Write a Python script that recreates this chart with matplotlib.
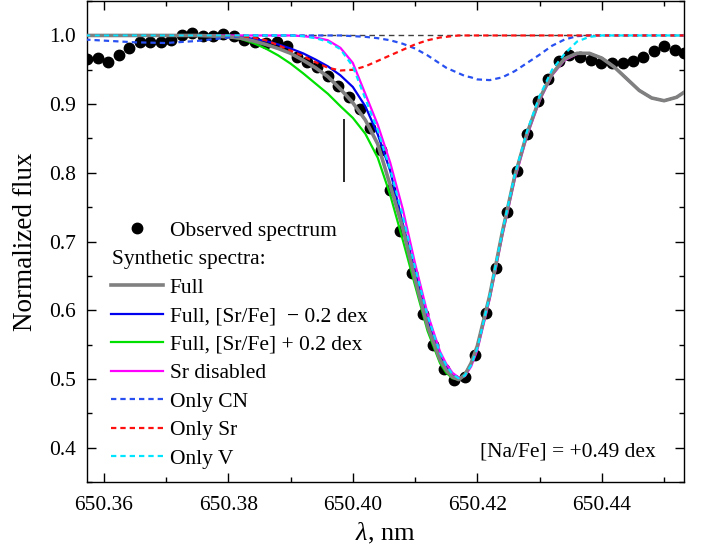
import matplotlib
matplotlib.use("Agg")
import matplotlib.pyplot as plt
from matplotlib.lines import Line2D
from matplotlib.ticker import MultipleLocator, FormatStrFormatter

plt.rcParams["font.family"] = ["Liberation Serif", "DejaVu Serif"]
plt.rcParams["mathtext.fontset"] = "custom"
plt.rcParams["mathtext.rm"] = "Liberation Serif"
plt.rcParams["mathtext.it"] = "Liberation Serif:italic"

# observed spectrum (nm, normalized flux)
obs_wl = [650.35732, 650.35908, 650.36069, 650.36241, 650.36406, 650.36578, 650.36739,
          650.36911, 650.37076, 650.37248, 650.37418, 650.37586, 650.37756, 650.37916,
          650.38088, 650.38249, 650.38426, 650.38598, 650.38774, 650.38935, 650.39096,
          650.39266, 650.39426, 650.39598, 650.39764, 650.39936, 650.40112, 650.40273,
          650.40450, 650.40594, 650.40755, 650.40943, 650.41120, 650.41290, 650.41462,
          650.41622, 650.41799, 650.41960, 650.42136, 650.42297, 650.42469, 650.42630,
          650.42800, 650.42977, 650.43137, 650.43314, 650.43475, 650.43647, 650.43818,
          650.43979, 650.44156, 650.44332, 650.44493, 650.44663, 650.44835, 650.44996,
          650.45168, 650.45317]
obs_flux = [0.966, 0.967, 0.962, 0.972, 0.982, 0.990, 0.990, 0.990, 0.994, 1.000,
            1.0035, 0.9985, 0.9995, 1.002, 0.9985, 0.994, 0.990, 0.989, 0.991, 0.984,
            0.969, 0.961, 0.954, 0.941, 0.927, 0.910, 0.893, 0.866, 0.833, 0.775,
            0.715, 0.654, 0.595, 0.550, 0.515, 0.498, 0.503, 0.535, 0.596, 0.662,
            0.743, 0.802, 0.856, 0.904, 0.937, 0.963, 0.972, 0.9685, 0.9646, 0.9606,
            0.960, 0.960, 0.963, 0.969, 0.977, 0.985, 0.979, 0.974]

# synthetic spectra, all on one wavelength grid
syn_wl = [650.3570, 650.3650, 650.3700, 650.3750, 650.3780, 650.3800, 650.3820, 650.3840,
          650.3860, 650.3880, 650.3900, 650.3920, 650.3940, 650.3960, 650.3980, 650.4000,
          650.4020, 650.4040, 650.4060, 650.4080, 650.4100, 650.4120, 650.4140, 650.4150,
          650.4160, 650.4170, 650.4180, 650.4190, 650.4200, 650.4220, 650.4240, 650.4260,
          650.4280, 650.4300, 650.4320, 650.4340, 650.4360, 650.4380, 650.4400, 650.4420,
          650.4440, 650.4460, 650.4480, 650.4500, 650.4520, 650.4535]

full = [1.000, 1.000, 1.000, 1.000, 0.999, 0.998, 0.996, 0.992, 0.987, 0.981,
        0.974, 0.964, 0.953, 0.940, 0.922, 0.902, 0.877, 0.842, 0.782, 0.720,
        0.645, 0.577, 0.528, 0.513, 0.503, 0.499, 0.506, 0.523, 0.548, 0.622,
        0.713, 0.795, 0.858, 0.908, 0.944, 0.966, 0.974, 0.974, 0.967, 0.954,
        0.937, 0.920, 0.909, 0.905, 0.910, 0.919]
sr_minus = [1.000, 1.000, 1.000, 1.000, 0.999, 0.999, 0.998, 0.995, 0.992, 0.987,
            0.981, 0.974, 0.965, 0.955, 0.942, 0.925, 0.897, 0.856, 0.803, 0.727,
            0.656, 0.585, 0.533, 0.517, 0.505, 0.500, 0.505, 0.521, 0.546, 0.620,
            0.711, 0.793, 0.857, 0.907, 0.943, 0.965, 0.974, 0.974, 0.967, 0.954,
            0.937, 0.920, 0.909, 0.905, 0.910, 0.919]
sr_plus = [1.000, 1.000, 1.000, 1.000, 1.000, 0.998, 0.995, 0.989, 0.981, 0.971,
           0.959, 0.945, 0.930, 0.915, 0.897, 0.880, 0.857, 0.822, 0.768, 0.703,
           0.636, 0.570, 0.523, 0.509, 0.501, 0.499, 0.507, 0.523, 0.548, 0.622,
           0.713, 0.795, 0.858, 0.908, 0.944, 0.966, 0.974, 0.974, 0.967, 0.954,
           0.937, 0.920, 0.909, 0.905, 0.910, 0.919]
sr_off = [1.000, 1.000, 1.000, 1.000, 1.000, 1.000, 1.000, 1.000, 1.000, 1.000,
          1.000, 0.999, 0.997, 0.993, 0.982, 0.960, 0.915, 0.870, 0.815, 0.748,
          0.668, 0.595, 0.540, 0.522, 0.509, 0.502, 0.504, 0.518, 0.542, 0.617,
          0.708, 0.790, 0.854, 0.905, 0.942, 0.964, 0.973, 0.974, 0.967, 0.954,
          0.937, 0.920, 0.909, 0.905, 0.910, 0.919]
only_cn = [0.994, 0.990, 0.989, 0.992, 0.995, 0.997, 0.999, 1.000, 1.000, 1.000,
           1.000, 1.000, 1.000, 1.000, 1.000, 0.999, 0.998, 0.996, 0.993, 0.988,
           0.981, 0.971, 0.959, 0.953, 0.949, 0.945, 0.941, 0.939, 0.936, 0.935,
           0.939, 0.948, 0.960, 0.972, 0.985, 0.994, 0.999, 1.000, 1.000, 1.000,
           1.000, 1.000, 1.000, 1.000, 1.000, 1.000]
only_sr = [1.000, 1.000, 1.000, 1.000, 1.000, 1.000, 0.999, 0.997, 0.993, 0.986,
           0.978, 0.970, 0.961, 0.953, 0.949, 0.950, 0.955, 0.963, 0.971, 0.979,
           0.987, 0.993, 0.997, 0.998, 0.999, 1.000, 1.000, 1.000, 1.000, 1.000,
           1.000, 1.000, 1.000, 1.000, 1.000, 1.000, 1.000, 1.000, 1.000, 1.000,
           1.000, 1.000, 1.000, 1.000, 1.000, 1.000]
only_v = [1.000, 1.000, 1.000, 1.000, 1.000, 1.000, 1.000, 1.000, 1.000, 1.000,
          1.000, 0.999, 0.996, 0.991, 0.980, 0.955, 0.908, 0.862, 0.805, 0.738,
          0.662, 0.592, 0.538, 0.520, 0.507, 0.501, 0.505, 0.520, 0.545, 0.622,
          0.714, 0.797, 0.861, 0.912, 0.950, 0.973, 0.991, 0.998, 1.000, 1.000,
          1.000, 1.000, 1.000, 1.000, 1.000, 1.000]

# position of the Na line marker
na_wl = 650.3985
na_flux = [0.786, 0.878]

DASH = (0, (2.4, 1.8))

fig = plt.figure(figsize=(7.03, 5.54), dpi=100)
ax = fig.add_axes([0.1238, 0.130, 0.8492, 0.868])

ax.axhline(1.0, color="#404040", lw=1.0, ls=(0, (4, 3)), zorder=1)
ax.plot(obs_wl, obs_flux, "o", color="black", ms=7.5, ls="none", zorder=2)
ax.plot(syn_wl, sr_plus, color="#00e000", lw=1.6, zorder=3)
ax.plot(syn_wl, sr_minus, color="#0000ee", lw=1.6, zorder=3)
ax.plot(syn_wl, sr_off, color="#ff00ff", lw=1.6, zorder=3)
ax.plot(syn_wl, full, color="#808080", lw=2.6, zorder=4)
ax.plot(syn_wl, only_cn, color="#2850f0", lw=1.6, ls=DASH, zorder=5)
ax.plot(syn_wl, only_sr, color="#ff1010", lw=1.6, ls=DASH, zorder=5)
ax.plot(syn_wl, only_v, color="#00e5ff", lw=1.6, ls=DASH, zorder=6)
ax.vlines(na_wl, na_flux[0], na_flux[1], color="black", lw=1.2, zorder=6)

ax.set_xlim(650.3573, 650.4532)
ax.set_ylim(0.35, 1.05)
ax.xaxis.set_major_locator(MultipleLocator(0.02))
ax.xaxis.set_minor_locator(MultipleLocator(0.01))
ax.yaxis.set_major_locator(MultipleLocator(0.1))
ax.yaxis.set_minor_locator(MultipleLocator(0.05))
ax.xaxis.set_major_formatter(FormatStrFormatter("%.2f"))
ax.yaxis.set_major_formatter(FormatStrFormatter("%.1f"))
ax.tick_params(which="both", direction="in", top=True, right=True, labelsize=15.5, width=1.0)
ax.tick_params(which="major", length=6.5)
ax.tick_params(axis="x", which="major", pad=10)
ax.tick_params(axis="y", which="major", pad=8)
ax.tick_params(which="minor", length=3.5)
for sp in ax.spines.values():
    sp.set_linewidth(1.0)

ax.set_xlabel(r"$\lambda$, nm", fontsize=19, labelpad=4)
ax.set_ylabel("Normalized flux", fontsize=19.5, labelpad=8)

ax.text(0.953, 0.062, "[Na/Fe] = +0.49 dex", transform=ax.transAxes,
        ha="right", va="center", fontsize=15.5)

handles = [
    Line2D([], [], marker="o", color="black", ms=7.5, ls="none"),
    Line2D([], [], ls="none"),
    Line2D([], [], color="#808080", lw=2.6),
    Line2D([], [], color="#0000ee", lw=1.6),
    Line2D([], [], color="#00e000", lw=1.6),
    Line2D([], [], color="#ff00ff", lw=1.6),
    Line2D([], [], color="#2850f0", lw=1.6, ls=DASH),
    Line2D([], [], color="#ff1010", lw=1.6, ls=DASH),
    Line2D([], [], color="#00e5ff", lw=1.6, ls=DASH),
]
labels = ["Observed spectrum", "Synthetic spectra:", "Full",
          "Full, [Sr/Fe]  \u2212 0.2 dex", "Full, [Sr/Fe] + 0.2 dex",
          "Sr disabled", "Only CN", "Only Sr", "Only V"]
leg = ax.legend(handles, labels, loc="lower left", bbox_to_anchor=(0.0265, 0.010),
                borderaxespad=0, frameon=False, fontsize=15.5, handlelength=2.4,
                handletextpad=0.3, labelspacing=0.39, numpoints=1)
leg.get_texts()[1].set_x(-58)

fig.savefig("out.png", dpi=100)
